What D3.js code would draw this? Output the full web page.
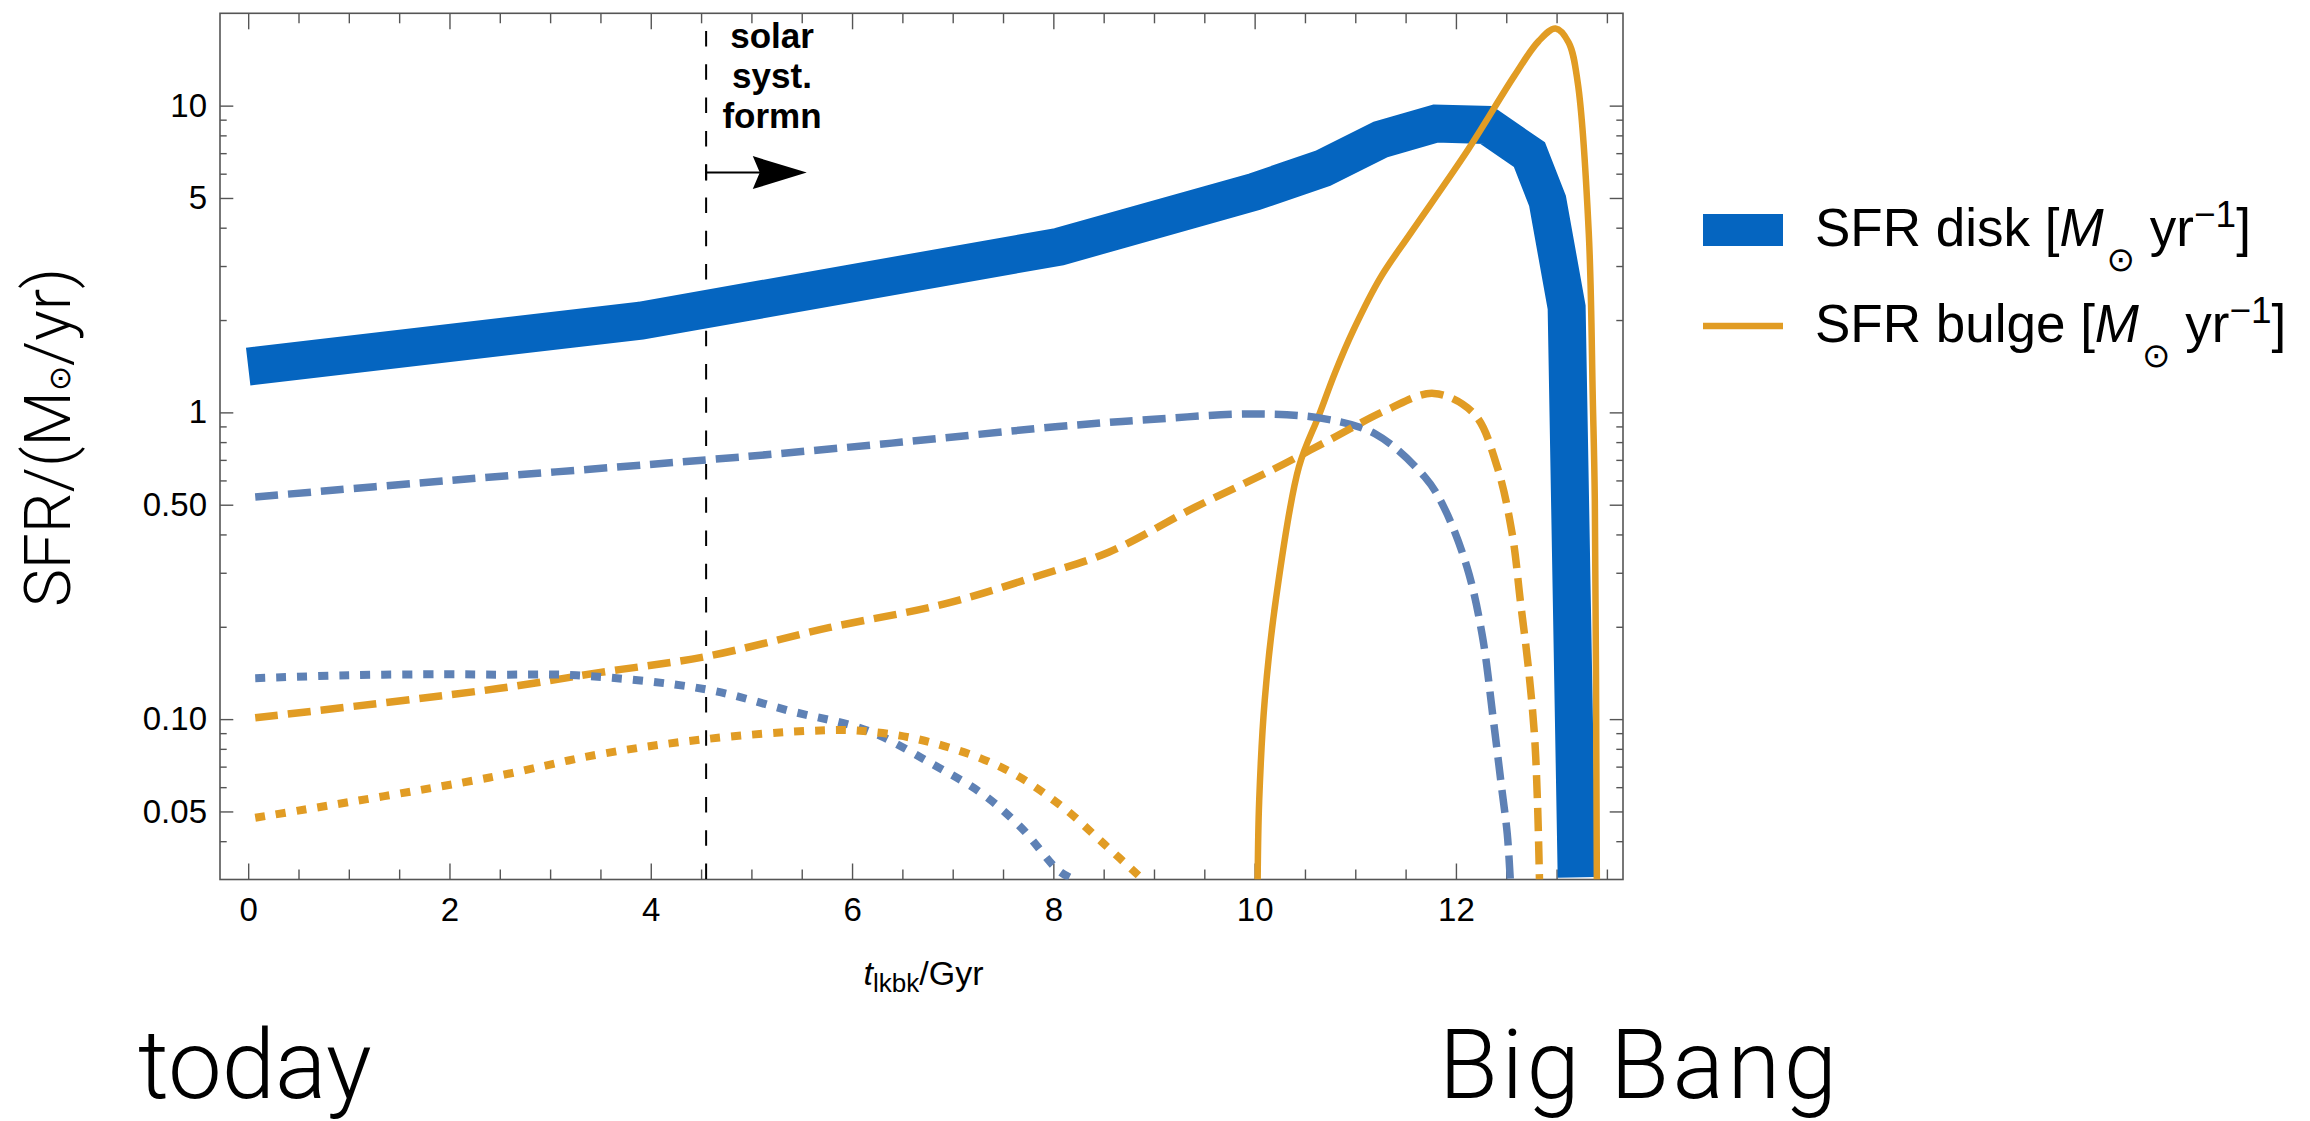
<!DOCTYPE html>
<html>
<head>
<meta charset="utf-8">
<script src="https://cdn.jsdelivr.net/npm/d3@7"></script>
<style>
  body { margin: 0; background: #fff; }
  svg { display: block; }
  .tick text { font-family: "Liberation Sans", Arial, sans-serif; font-size: 33px; fill: #000; }
  .light { font-family: Roboto, "Open Sans", sans-serif; font-weight: 300; }
</style>
</head>
<body>
<svg id="chart" width="2310" height="1121"></svg>
<script>
// lookback time (Gyr) vs SFR (Msun/yr)
const diskTotal = [[0, 1.41], [3.9, 1.99], [8.06, 3.47], [10.0, 5.24], [10.68, 6.25], [11.25, 7.76],
  [11.8, 8.74], [12.3, 8.65], [12.73, 6.92], [12.91, 4.89], [13.1, 2.2], [13.2, 0.0305]];
const bulgeTotal = [[10.03, 0.03], [10.045, 0.054], [10.1, 0.115], [10.21, 0.244], [10.44, 0.664],
  [10.64, 0.98], [10.8, 1.35], [10.98, 1.85], [11.25, 2.75], [11.55, 3.84], [12.12, 7.18],
  [12.58, 12.5], [12.82, 16.2], [12.99, 17.85], [13.12, 16.07], [13.21, 11.9], [13.32, 3.84],
  [13.36, 1.1], [13.38, 0.517], [13.4, 0.03]];
const diskMid = [[0.07, 0.53], [2, 0.6], [4.55, 0.7], [5.28, 0.734], [6.5, 0.8], [8.02, 0.897],
  [9.0, 0.95], [9.98, 0.988], [10.67, 0.956], [11.2, 0.85], [11.69, 0.616], [11.88, 0.491],
  [12.11, 0.313], [12.26, 0.189], [12.37, 0.1005], [12.45, 0.0613], [12.51, 0.0423], [12.54, 0.03]];
const bulgeMid = [[0.07, 0.101], [2.5, 0.126], [3.5, 0.142], [4.55, 0.16], [5.78, 0.199],
  [6.92, 0.2375], [7.86, 0.294], [8.55, 0.35], [9.41, 0.491], [10.17, 0.648], [10.74, 0.812],
  [11.31, 1.017], [11.78, 1.153], [12.18, 0.99], [12.41, 0.664], [12.56, 0.4], [12.64, 0.243],
  [12.72, 0.147], [12.78, 0.089], [12.81, 0.054], [12.83, 0.03]];
const diskSmall = [[0.07, 0.136], [1.0, 0.139], [1.95, 0.14], [2.5, 0.1396], [3.26, 0.139],
  [4.55, 0.125], [5.4, 0.106], [6.16, 0.0916], [6.8, 0.0713], [7.3, 0.0569], [7.68, 0.0443],
  [8.06, 0.0319], [8.21, 0.03]];
const bulgeSmall = [[0.07, 0.0477], [2.4, 0.0645], [3.5, 0.0769], [4.55, 0.0861], [5.59, 0.0916],
  [6.08, 0.0916], [6.72, 0.085], [7.49, 0.0695], [8.06, 0.0527], [8.51, 0.039], [8.89, 0.03]];

const xMajor = [0, 2, 4, 6, 8, 10, 12];
const yMajor = [0.05, 0.1, 0.5, 1, 5, 10];
const yMajorLabels = ['0.05', '0.10', '0.50', '1', '5', '10'];
const solarT = 4.55;       // solar system formation
const arrowEndT = 5.55;
const arrowV = 6.05;

const blueThick = '#0565c0';
const blue = '#5e81b5';
const orange = '#e19c24';

// layout
const plot = {left: 220, right: 1623, top: 13.3, bottom: 879.5};
const svg = d3.select('#chart');

const x = d3.scaleLinear().domain([-0.28, 13.66]).range([plot.left, plot.right]);
const y = d3.scaleLog().domain([0.03, 20]).range([plot.bottom, plot.top]);

// minor ticks
const xMinor = d3.range(0, 13.6, 0.5).filter((d) => !xMajor.includes(d));
const yMinor = [];
[0.01, 0.1, 1, 10].forEach((dec) => {
  for (let m = 2; m <= 9; m++) {
    const v = +(m * dec).toPrecision(3);
    if (v > 0.03 && v < 20 && !yMajor.includes(v)) yMinor.push(v);
  }
});

svg.append('defs').append('clipPath').attr('id', 'clip')
  .append('rect')
  .attr('x', plot.left).attr('y', plot.top)
  .attr('width', plot.right - plot.left).attr('height', plot.bottom - plot.top);

// axes (ticks inward on all four sides)
function noDomain(g) { g.select('.domain').remove(); }
const axisColor = '#555';

svg.append('g').attr('transform', `translate(0,${plot.bottom})`).attr('color', axisColor)
  .call(d3.axisBottom(x).tickValues(xMajor).tickSize(-16).tickPadding(18).tickFormat(d3.format('d')))
  .call(noDomain);
svg.append('g').attr('transform', `translate(0,${plot.bottom})`).attr('color', axisColor)
  .call(d3.axisBottom(x).tickValues(xMinor).tickSize(-10).tickFormat(() => ''))
  .call(noDomain);
svg.append('g').attr('transform', `translate(0,${plot.top})`).attr('color', axisColor)
  .call(d3.axisTop(x).tickValues(xMajor).tickSize(-16).tickFormat(() => ''))
  .call(noDomain);
svg.append('g').attr('transform', `translate(0,${plot.top})`).attr('color', axisColor)
  .call(d3.axisTop(x).tickValues(xMinor).tickSize(-10).tickFormat(() => ''))
  .call(noDomain);

svg.append('g').attr('transform', `translate(${plot.left},0)`).attr('color', axisColor)
  .call(d3.axisLeft(y).tickValues(yMajor).tickSize(-13.3).tickPadding(13)
    .tickFormat((d, i) => yMajorLabels[i]))
  .call(noDomain);
svg.append('g').attr('transform', `translate(${plot.left},0)`).attr('color', axisColor)
  .call(d3.axisLeft(y).tickValues(yMinor).tickSize(-6.7).tickFormat(() => ''))
  .call(noDomain);
svg.append('g').attr('transform', `translate(${plot.right},0)`).attr('color', axisColor)
  .call(d3.axisRight(y).tickValues(yMajor).tickSize(-13.3).tickFormat(() => ''))
  .call(noDomain);
svg.append('g').attr('transform', `translate(${plot.right},0)`).attr('color', axisColor)
  .call(d3.axisRight(y).tickValues(yMinor).tickSize(-6.7).tickFormat(() => ''))
  .call(noDomain);

svg.selectAll('.tick line').attr('stroke-width', 1.4);

// frame
svg.append('rect')
  .attr('x', plot.left).attr('y', plot.top)
  .attr('width', plot.right - plot.left).attr('height', plot.bottom - plot.top)
  .attr('fill', 'none').attr('stroke', axisColor).attr('stroke-width', 1.6);

const gPlot = svg.append('g').attr('clip-path', 'url(#clip)');

// solar system formation marker
gPlot.append('line')
  .attr('x1', x(solarT)).attr('x2', x(solarT))
  .attr('y1', plot.top).attr('y2', plot.bottom)
  .attr('stroke', '#000').attr('stroke-width', 2)
  .attr('stroke-dasharray', '15.5,17.8').attr('stroke-dashoffset', 15.6);

// curves
const smooth = d3.line().x((d) => x(d[0])).y((d) => y(d[1])).curve(d3.curveCatmullRom.alpha(0.5));
const straight = d3.line().x((d) => x(d[0])).y((d) => y(d[1]));

gPlot.append('path').attr('d', straight(diskTotal))
  .attr('fill', 'none').attr('stroke', blueThick).attr('stroke-width', 38)
  .attr('stroke-linejoin', 'miter').attr('stroke-miterlimit', 10);

const series = [
  {data: bulgeTotal, color: orange, width: 6.5, dash: null},
  {data: diskMid, color: blue, width: 7.5, dash: '23,10'},
  {data: bulgeMid, color: orange, width: 7.5, dash: '23,10'},
  {data: diskSmall, color: blue, width: 8, dash: '10,11'},
  {data: bulgeSmall, color: orange, width: 8, dash: '10,11'}
];
gPlot.selectAll('path.curve').data(series).join('path')
  .attr('class', 'curve')
  .attr('d', (d) => smooth(d.data))
  .attr('fill', 'none')
  .attr('stroke', (d) => d.color)
  .attr('stroke-width', (d) => d.width)
  .attr('stroke-dasharray', (d) => d.dash);

// arrow + label
const ay = y(arrowV);
const ax0 = x(solarT);
const ax1 = x(arrowEndT);
svg.append('line').attr('x1', ax0).attr('x2', ax1 - 40).attr('y1', ay).attr('y2', ay)
  .attr('stroke', '#000').attr('stroke-width', 2);
svg.append('line').attr('x1', ax0).attr('x2', ax0).attr('y1', ay - 8).attr('y2', ay + 8)
  .attr('stroke', '#000').attr('stroke-width', 2);
svg.append('path')
  .attr('d', `M${ax1},${ay} L${ax1 - 54},${ay - 16.5} L${ax1 - 47},${ay} L${ax1 - 54},${ay + 16.5} Z`)
  .attr('fill', '#000');

const solarLines = ['solar', 'syst.', 'formn'];
svg.append('text')
  .attr('font-family', '"Liberation Sans", Arial, sans-serif')
  .attr('font-weight', 'bold').attr('font-size', 35).attr('text-anchor', 'middle')
  .selectAll('tspan').data(solarLines).join('tspan')
  .attr('x', 772).attr('y', (d, i) => 48 + i * 40.2)
  .text((d) => d);

// axis titles
const xTitle = svg.append('text')
  .attr('x', (plot.left + plot.right) / 2 + 2).attr('y', 985)
  .attr('text-anchor', 'middle')
  .attr('font-family', '"Liberation Sans", Arial, sans-serif').attr('font-size', 34);
xTitle.append('tspan').attr('font-style', 'italic').text('t');
xTitle.append('tspan').attr('font-size', 26).attr('dy', 7).text('lkbk');
xTitle.append('tspan').attr('dy', -7).text('/Gyr');

const yTitle = svg.append('text')
  .attr('class', 'light')
  .attr('transform', 'translate(70,437.5) rotate(-90)')
  .attr('text-anchor', 'middle')
  .attr('font-size', 64);
yTitle.append('tspan').text('SFR/(M');
yTitle.append('tspan').attr('font-family', '"DejaVu Sans", sans-serif').attr('font-weight', 300)
  .attr('font-size', 30).text('⊙');
yTitle.append('tspan').text('/yr)');

// legend
const legendItems = [
  {label: 'SFR disk [', color: blueThick, width: 32},
  {label: 'SFR bulge [', color: orange, width: 6.5}
];
const lg = svg.append('g').attr('transform', 'translate(1703,230)');
legendItems.forEach((item, i) => {
  const row = lg.append('g').attr('transform', `translate(0,${i * 96})`);
  row.append('line').attr('x1', 0).attr('x2', 80).attr('y1', 0).attr('y2', 0)
    .attr('stroke', item.color).attr('stroke-width', item.width);
  const t = row.append('text').attr('x', 112).attr('y', 16)
    .attr('font-family', '"Liberation Sans", Arial, sans-serif').attr('font-size', 53);
  t.append('tspan').text(item.label);
  t.append('tspan').attr('font-style', 'italic').text('M');
  t.append('tspan').attr('font-family', '"DejaVu Sans", sans-serif').attr('font-size', 34)
    .attr('dy', 25).attr('dx', 3).text('⊙');
  t.append('tspan').attr('dy', -25).text(' yr');
  t.append('tspan').attr('font-size', 37).attr('dy', -19).text('−1');
  t.append('tspan').attr('dy', 19).text(']');
});

// bottom captions
svg.append('text').attr('class', 'light').attr('x', 138).attr('y', 1098)
  .attr('font-size', 96).text('today');
svg.append('text').attr('class', 'light').attr('x', 1439).attr('y', 1098)
  .attr('font-size', 96).attr('letter-spacing', 3.5).text('Big Bang');
</script>
</body>
</html>
